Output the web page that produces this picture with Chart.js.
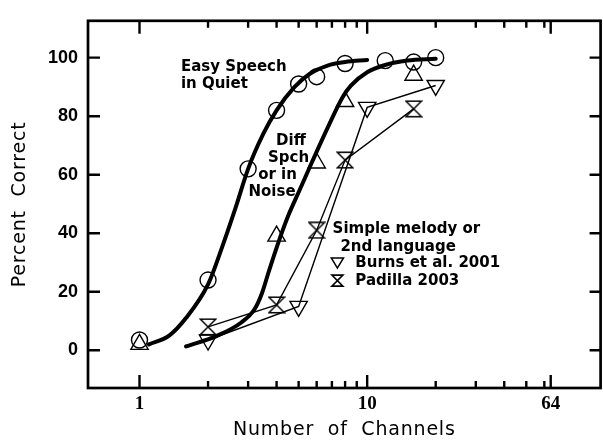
<!DOCTYPE html>
<html>
<head>
<meta charset="utf-8">
<script src="https://cdn.jsdelivr.net/npm/chart.js@4.4.1/dist/chart.umd.min.js"></script>
<style>
  html, body { margin: 0; padding: 0; background: #fff; overflow: hidden; }
  #wrap { position: relative; width: 612px; height: 440px; }
</style>
</head>
<body>
<div id="wrap"><canvas id="chart" width="612" height="440"></canvas></div>
<script>
// tick values (log x axis, linear y axis)
const xTicks = [1, 2, 3, 4, 5, 6, 7, 8, 9, 10, 20, 30, 40, 50, 60, 64];
const xMajor = [1, 10, 64];
const yTicks = [0, 20, 40, 60, 80, 100];

// Easy speech in quiet (circles)
const quietX = [1, 2, 3, 4, 5, 6, 8, 12, 16, 20];
const quietY = [3.5, 24, 62, 82, 91, 93.5, 98, 99, 98.5, 100];

// Diff speech or in noise (triangles)
const noiseX = [1, 4, 6, 8, 16];
const noiseY = [2, 39, 64, 85, 94];

// Burns et al. 2001 (inverted triangles)
const burnsX = [2, 5, 10, 20];
const burnsY = [3.5, 15, 83, 90.5];

// Padilla 2003 (hourglass)
const padillaX = [2, 4, 6, 8, 16];
const padillaY = [8, 15.5, 41, 65, 82.5];

// fitted curves
const quietFitX = [1.1, 1.35, 1.6, 2, 2.3, 2.65, 3, 3.5, 4, 4.8, 5.6, 6.7, 8, 10];
const quietFitY = [2, 5, 11, 22.5, 35, 49, 62, 74, 82, 90, 94.5, 97.3, 98.5, 99.2];
const noiseFitX = [1.6, 2.2, 2.8, 3.2, 3.45, 3.7, 4.1, 4.5, 5, 5.7, 6.7, 7.8, 8.5, 10, 12, 15, 20];
const noiseFitY = [1.3, 5, 9.5, 14, 19.5, 27, 37.5, 46, 54, 64, 76, 86.5, 90.5, 95, 97.5, 99, 99.6];

const pts = (xs, ys) => xs.map((x, i) => ({ x: x, y: ys[i] }));

function hourglass(size, lw) {
  const c = document.createElement('canvas');
  c.width = size; c.height = size;
  const g = c.getContext('2d');
  g.lineWidth = lw; g.strokeStyle = '#000';
  const p = lw / 2 + 0.5, q = size - lw / 2 - 0.5;
  g.beginPath();
  g.moveTo(p, p); g.lineTo(q, p); g.lineTo(p, q); g.lineTo(q, q); g.closePath();
  g.stroke();
  return c;
}

// box, inward ticks, notes and axis titles
const frame = {
  id: 'frame',
  afterDraw(chart) {
    const { ctx, chartArea: a, scales: { x, y } } = chart;
    ctx.save();
    ctx.strokeStyle = '#000';
    ctx.fillStyle = '#000';
    ctx.lineWidth = 2.7;
    ctx.strokeRect(a.left, a.top, a.right - a.left, a.bottom - a.top);

    ctx.lineWidth = 2.4;
    ctx.beginPath();
    xTicks.forEach(v => {
      const px = x.getPixelForValue(v);
      const len = xMajor.includes(v) ? 13 : 7;
      ctx.moveTo(px, a.bottom); ctx.lineTo(px, a.bottom - len);
      ctx.moveTo(px, a.top); ctx.lineTo(px, a.top + len);
    });
    yTicks.forEach(v => {
      const py = y.getPixelForValue(v);
      ctx.moveTo(a.left, py); ctx.lineTo(a.left + 12, py);
      ctx.moveTo(a.right, py); ctx.lineTo(a.right - 11, py);
    });
    ctx.stroke();

    // notes inside the plot
    ctx.font = 'bold 15px "DejaVu Sans"';
    ctx.textAlign = 'left';
    ctx.textBaseline = 'middle';
    const notes = [
      ['Easy Speech', 1.52, 96.7],
      ['in Quiet', 1.52, 91],
      ['Diff', 3.98, 71.4],
      ['Spch', 3.67, 65.6],
      ['or in', 3.32, 59.8],
      ['Noise', 3.01, 54],
      ['Simple melody or', 7.05, 41.4],
      ['2nd language', 7.63, 35.2],
      ['Burns et al. 2001', 8.87, 29.8],
      ['Padilla 2003', 8.87, 23.8]
    ];
    notes.forEach(n => ctx.fillText(n[0], x.getPixelForValue(n[1]), y.getPixelForValue(n[2])));

    // legend symbols
    ctx.lineWidth = 1.6;
    const sx = x.getPixelForValue(7.4);
    let sy = y.getPixelForValue(29.8);
    ctx.beginPath();
    ctx.moveTo(sx - 6, sy - 5); ctx.lineTo(sx + 6, sy - 5); ctx.lineTo(sx, sy + 5); ctx.closePath();
    ctx.stroke();
    sy = y.getPixelForValue(23.8);
    ctx.beginPath();
    ctx.moveTo(sx - 5.5, sy - 5.5); ctx.lineTo(sx + 5.5, sy - 5.5); ctx.lineTo(sx - 5.5, sy + 5.5);
    ctx.lineTo(sx + 5.5, sy + 5.5); ctx.closePath();
    ctx.stroke();

    // axis titles
    ctx.font = '19px "DejaVu Sans"';
    ctx.letterSpacing = '0.8px';
    ctx.textAlign = 'center';
    ctx.fillText('Number  of  Channels', (a.left + a.right) / 2, 430);
    ctx.translate(20, (a.top + a.bottom) / 2);
    ctx.rotate(-Math.PI / 2);
    ctx.fillText('Percent  Correct', 0, 0);
    ctx.restore();
  }
};

const thin = { borderColor: '#000', backgroundColor: 'rgba(0,0,0,0)', pointBorderColor: '#000', pointBackgroundColor: 'rgba(0,0,0,0)', pointBorderWidth: 1.4 };
const fit = { showLine: true, pointRadius: 0, borderColor: '#000', borderWidth: 4, cubicInterpolationMode: 'monotone', borderCapStyle: 'round', borderJoinStyle: 'round' };

new Chart(document.getElementById('chart'), {
  type: 'scatter',
  data: {
    datasets: [
      Object.assign({ label: 'Easy Speech in Quiet', data: pts(quietX, quietY), pointStyle: 'circle', pointRadius: 8, showLine: false }, thin),
      Object.assign({ label: 'Diff Spch or in Noise', data: pts(noiseX, noiseY), pointStyle: 'triangle', pointRadius: 10, showLine: false }, thin),
      Object.assign({ label: 'Burns et al. 2001', data: pts(burnsX, burnsY), pointStyle: 'triangle', rotation: 180, pointRadius: 10, showLine: true, borderWidth: 1.4 }, thin),
      Object.assign({ label: 'Padilla 2003', data: pts(padillaX, padillaY), pointStyle: hourglass(18, 1.5), pointRadius: 9, showLine: true, borderWidth: 1.4 }, thin),
      Object.assign({ label: 'fit quiet', data: pts(quietFitX, quietFitY) }, fit),
      Object.assign({ label: 'fit noise', data: pts(noiseFitX, noiseFitY) }, fit)
    ]
  },
  options: {
    responsive: false,
    animation: false,
    layout: { padding: { top: 9, right: 6, left: 0, bottom: 0 } },
    plugins: { legend: { display: false }, tooltip: { enabled: false } },
    scales: {
      x: {
        type: 'logarithmic',
        min: 0.594,
        max: 106,
        afterBuildTicks: s => { s.ticks = xTicks.map(v => ({ value: v })); },
        afterFit: s => { s.height = 52; },
        grid: { display: false, drawTicks: false },
        border: { display: false },
        ticks: {
          autoSkip: false, maxRotation: 0, padding: 5, color: '#000',
          font: { family: 'Liberation Serif', weight: 'bold', size: 19 },
          callback: v => xMajor.includes(v) ? String(v) : ''
        }
      },
      y: {
        min: -12.9,
        max: 112.6,
        afterBuildTicks: s => { s.ticks = yTicks.map(v => ({ value: v })); },
        afterFit: s => { s.width = 88; },
        grid: { display: false, drawTicks: false },
        border: { display: false },
        ticks: {
          padding: 10, color: '#000',
          font: { family: 'Liberation Sans', weight: 'bold', size: 18 }
        }
      }
    }
  },
  plugins: [frame]
});
</script>
</body>
</html>
